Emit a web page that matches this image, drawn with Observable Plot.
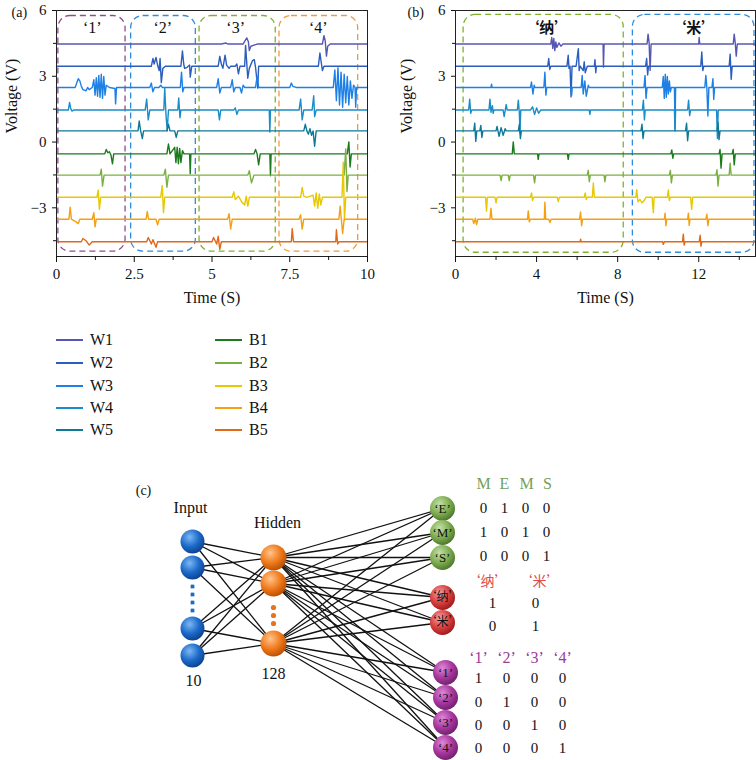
<!DOCTYPE html>
<html><head><meta charset="utf-8">
<script src="https://cdn.jsdelivr.net/npm/d3@7"></script>
<script src="https://cdn.jsdelivr.net/npm/@observablehq/plot@0.6"></script>
<style>
body{margin:0;background:#fff;width:756px;height:760px;overflow:hidden;font-family:"Liberation Serif",serif;}
#top{display:flex;height:310px;}
#legend{position:relative;height:150px;}
#c{height:300px;}
.li{position:absolute;display:flex;align-items:center;height:20px;font-size:16px;color:#111;}
.li span.sw{display:inline-block;width:27px;height:2px;margin-right:7px;}
</style></head><body>
<div id="top"><div id="pa"></div><div id="pb"></div></div>
<div id="legend"></div>
<div id="c"></div>
<script>
// ---------- series ----------
const names = ["W1","W2","W3","W4","W5","B1","B2","B3","B4","B5"];
const baselines = [4.47,3.46,2.49,1.46,0.51,-0.54,-1.51,-2.52,-3.52,-4.55];
const colors = ["#5757B2","#2B5DBE","#1C80E6","#1A8CC8","#0F7896","#1B7A1E","#7AB042","#E8C800","#F5A010","#E06818"];

// panel (a): [time, offset from baseline]
const traceA = {
 W1:[[0,0],[5.3,0],[5.45,0.05],[5.5,0],[6.0,0],[6.05,0.12],[6.12,0.28],[6.17,0.1],[6.2,-0.3],[6.25,-0.1],[6.35,-0.05],[6.45,0],[8.55,0],[8.6,0.38],[8.64,0.15],[8.68,-0.55],[8.72,-0.1],[8.8,0],[10,0]],
 W2:[[0,0],[3.05,0],[3.1,0.35],[3.14,0.1],[3.2,0.4],[3.25,0.05],[3.3,-0.2],[3.33,0.35],[3.37,-0.75],[3.42,-0.1],[3.5,0],[4.0,0],[4.05,0.7],[4.09,0.1],[4.12,-0.1],[4.2,-0.05],[4.28,0.05],[4.3,-0.5],[4.35,0],[5.2,0],[5.25,0.45],[5.3,0.1],[5.35,-0.1],[5.42,0.5],[5.47,0.05],[5.55,-0.1],[5.6,0],[5.75,0],[5.8,0.1],[5.85,-0.35],[5.9,0],[6.05,0],[6.08,0.95],[6.12,0.1],[6.15,-0.55],[6.2,-0.1],[6.3,0.25],[6.36,0.3],[6.4,-0.05],[6.47,-1.0],[6.5,0],[8.42,0],[8.47,0.6],[8.52,0.1],[8.55,-0.2],[8.6,0],[10,0]],
 W3:[[0,0],[0.6,0],[0.65,0.2],[0.7,0.4],[0.75,0.3],[0.8,0.05],[0.85,-0.1],[0.95,-0.15],[1.0,0],[1.05,-0.1],[1.15,0],[1.2,0.35],[1.24,-0.35],[1.28,0.45],[1.32,-0.4],[1.36,0.55],[1.4,-0.45],[1.44,0.6],[1.48,-0.5],[1.52,0.5],[1.56,-0.35],[1.6,0.1],[1.7,0],[1.88,-0.05],[1.9,-0.75],[1.93,0],[3.0,0],[3.05,0.2],[3.1,-0.2],[3.15,0],[3.3,0],[3.35,0.1],[3.4,0],[3.98,0],[4.02,0.7],[4.06,-0.2],[4.1,0],[5.15,0],[5.2,0.4],[5.25,-0.25],[5.3,0],[5.6,0],[5.65,0.35],[5.7,-0.2],[5.75,0],[5.9,0],[5.95,-0.25],[6.0,0.1],[6.05,0],[6.4,0],[6.45,0.5],[6.5,0],[7.5,0],[7.55,0.2],[7.6,0.05],[7.7,0],[8.9,0],[8.95,0.8],[9.0,-0.6],[9.05,0.9],[9.1,-0.8],[9.15,0.7],[9.2,-0.9],[9.25,0.6],[9.3,-0.7],[9.35,0.5],[9.4,-0.8],[9.45,0.3],[9.5,-0.5],[9.55,0.1],[9.6,0],[9.62,-0.9],[9.65,0],[10,0]],
 W4:[[0,0],[0.38,0],[0.42,0.35],[0.46,0.05],[0.5,-0.05],[0.55,0],[2.85,0],[2.9,0.5],[2.95,-0.45],[3.0,0],[3.45,0],[3.48,1.0],[3.52,-0.2],[3.56,-0.95],[3.6,0],[3.9,0],[3.93,0.55],[3.97,-0.35],[4.0,0],[5.2,0],[5.24,-0.45],[5.28,0],[5.7,0],[5.75,0.1],[5.8,-0.2],[5.85,0],[6.84,0],[6.86,-1.0],[6.88,0],[7.8,0],[7.85,0.5],[7.9,-0.45],[7.95,0],[8.22,0],[8.27,0.65],[8.3,-0.3],[8.35,0],[10,0]],
 W5:[[0,0],[2.62,0],[2.66,0.45],[2.7,0.05],[2.76,-0.35],[2.8,0],[3.55,0],[3.6,0.3],[3.65,0],[3.8,0],[3.85,-0.3],[3.9,0],[7.95,0],[8.0,0.3],[8.05,0],[8.1,-0.15],[8.15,0.1],[8.2,-0.2],[8.25,0],[8.3,-0.7],[8.35,0],[10,0]],
 B1:[[0,0],[1.55,0],[1.6,0.2],[1.65,0.05],[1.7,0.1],[1.75,-0.05],[1.8,-0.45],[1.84,0],[3.55,0],[3.6,0.45],[3.65,0],[3.8,0.3],[3.84,-0.4],[3.88,0.3],[3.92,-0.45],[3.96,0.25],[4.0,-0.4],[4.05,0.15],[4.1,0],[4.28,0],[4.3,-0.9],[4.32,0],[6.35,0],[6.4,0.2],[6.45,0],[6.5,-0.5],[6.55,0],[6.86,0],[6.88,-1.0],[6.9,0],[9.35,0],[9.4,0.55],[9.44,-0.6],[9.48,0],[10,0]],
 B2:[[0,0],[1.4,0],[1.44,0.27],[1.48,-0.5],[1.53,0],[3.45,0],[3.5,0.27],[3.55,-0.55],[3.6,0],[6.15,0],[6.2,0.2],[6.27,-0.35],[6.35,0],[9.25,0],[9.3,1.2],[9.34,-0.75],[9.38,0],[10,0]],
 B3:[[0,0],[1.3,0],[1.34,0.33],[1.38,-0.55],[1.42,0],[3.35,0],[3.4,0.53],[3.44,-0.7],[3.48,0],[5.65,0],[5.7,0.25],[5.75,-0.1],[5.85,0.05],[5.95,-0.2],[6.05,-0.35],[6.1,0.05],[6.15,-0.4],[6.2,0],[7.85,0],[7.9,0.45],[7.95,0.05],[8.05,0],[8.25,0.1],[8.3,-0.4],[8.35,0.2],[8.4,-0.5],[8.45,0.15],[8.5,-0.35],[8.55,0],[9.18,0],[9.22,1.6],[9.26,-1.05],[9.3,0],[10,0]],
 B4:[[0,0],[0.4,0],[0.44,0.55],[0.48,0],[0.6,-0.1],[0.7,-0.2],[0.75,0],[1.15,0],[1.2,0.3],[1.24,-0.35],[1.28,0],[2.88,0],[2.92,0.35],[2.96,0],[3.2,0],[3.25,-0.25],[3.3,0],[5.5,0],[5.55,0.25],[5.6,-0.45],[5.65,0],[7.8,0],[7.85,0.2],[7.9,-0.45],[7.95,0],[9.08,0],[9.12,0.6],[9.2,-0.65],[9.25,0],[10,0]],
 B5:[[0,0],[0.8,0],[0.85,0.15],[0.95,0.05],[1.05,-0.15],[1.15,0],[2.9,0],[2.95,0.2],[3.05,-0.1],[3.1,0.1],[3.2,-0.25],[3.25,0],[5.0,0],[5.05,0.2],[5.15,-0.1],[5.2,0.25],[5.25,-0.35],[5.3,0],[7.55,0],[7.58,0.6],[7.62,0],[8.98,0],[9.0,0.55],[9.04,-0.1],[9.08,0],[10,0]]
};
// panel (b)
const traceB = {
 W1:[[0,0],[4.7,0],[4.75,0.3],[4.8,-0.2],[4.85,0.25],[4.9,-0.3],[4.95,0.1],[5.0,-0.15],[5.1,0.05],[5.2,-0.1],[5.3,0],[7.28,0],[7.3,-1.05],[7.33,0],[9.45,0],[9.5,0.45],[9.55,0.1],[9.6,-1.2],[9.65,0],[12.0,0],[12.02,0.3],[12.05,0],[13.7,0],[13.75,0.45],[13.8,0.05],[13.85,-0.55],[13.9,0],[14.8,0]],
 W2:[[0,0],[4.55,0],[4.6,0.35],[4.65,-0.15],[4.7,0],[5.5,0],[5.56,0.5],[5.6,-0.1],[5.65,0],[5.7,-1.4],[5.75,0],[5.95,0],[6.06,0.8],[6.1,-0.2],[6.15,0],[6.3,-0.2],[6.35,0.2],[6.4,-0.3],[6.5,0],[6.85,0],[6.88,0.3],[6.92,-0.3],[6.95,0],[9.38,0],[9.43,0.35],[9.48,-0.4],[9.52,0],[12.1,0],[12.15,0.65],[12.2,-0.2],[12.25,0],[13.5,0],[13.55,0.55],[13.6,-0.6],[13.65,0],[14.8,0]],
 W3:[[0,0],[1.75,0],[1.78,0.15],[1.8,0],[3.7,0],[3.75,0.25],[3.82,-0.3],[3.88,0.1],[3.92,0],[4.36,0],[4.41,0.7],[4.46,-0.35],[4.5,0],[5.7,0],[5.73,-0.35],[5.76,0],[6.2,0],[6.25,0.55],[6.3,-0.3],[6.38,0.3],[6.45,-0.4],[6.55,0.1],[6.6,0],[9.3,0],[9.35,0.55],[9.4,-0.5],[9.45,0],[10.2,0],[10.25,0.5],[10.3,-0.5],[10.35,0.6],[10.4,-0.45],[10.45,0.5],[10.5,-0.3],[10.55,0.3],[10.6,-0.2],[10.65,0],[10.8,0],[10.83,-1.9],[10.86,0],[12.3,0],[12.35,0.55],[12.4,0],[12.45,-1.3],[12.5,0],[12.65,0],[12.7,0.4],[12.74,-0.55],[12.78,0],[14.8,0]],
 W4:[[0,0],[0.65,0],[0.7,0.5],[0.75,-0.15],[0.8,0],[1.65,0],[1.7,0.5],[1.75,-0.1],[1.82,0.2],[1.86,-0.15],[1.9,0],[2.35,0],[2.4,-0.3],[2.5,0.25],[2.55,0],[3.05,0],[3.1,0.45],[3.15,-0.15],[3.18,-1.05],[3.22,0],[3.7,0],[3.8,0.15],[3.9,-0.2],[4.0,0.1],[4.1,-0.15],[4.2,0],[6.6,0],[6.63,-0.2],[6.66,0],[9.22,0],[9.27,0.45],[9.32,-0.45],[9.36,0],[10.8,0],[10.83,-0.95],[10.86,0],[11.45,0],[11.5,0.45],[11.55,-0.25],[11.6,0],[12.88,0],[12.92,-1.3],[12.96,0],[14.8,0]],
 W5:[[0,0],[0.9,0],[0.95,0.35],[1.0,-0.48],[1.05,0],[1.2,0],[1.25,0.25],[1.3,-0.3],[1.35,0],[2.0,0],[2.05,0.2],[2.15,-0.25],[2.25,0.15],[2.35,-0.2],[2.45,0.1],[2.5,0],[3.1,0],[3.15,0.3],[3.2,-0.35],[3.25,0],[9.15,0],[9.2,0.3],[9.25,-0.35],[9.3,0],[11.35,0],[11.4,0.35],[11.45,-0.45],[11.5,0],[12.9,0],[12.95,0.4],[13.0,-0.4],[13.05,0],[14.8,0]],
 B1:[[0,0],[2.8,0],[2.85,0.55],[2.9,0],[4.05,0],[4.08,-0.25],[4.12,0],[5.52,0],[5.56,-0.25],[5.6,0],[10.62,0],[10.67,0.18],[10.72,-0.2],[10.76,0],[13.0,0],[13.05,0.2],[13.1,-0.65],[13.15,0],[13.65,0],[13.7,0.2],[13.75,-0.5],[13.8,0],[14.8,0]],
 B2:[[0,0],[2.2,0],[2.25,-0.25],[2.3,0],[2.6,0],[2.65,-0.25],[2.7,0],[3.85,0],[3.9,-0.35],[3.95,0],[6.5,0],[6.55,0.22],[6.6,-0.3],[6.65,0],[7.33,0],[7.37,-0.3],[7.42,0],[10.55,0],[10.6,0.22],[10.65,-0.35],[10.7,0],[12.85,0],[12.9,0.25],[12.95,-0.5],[13.0,0],[13.5,0],[13.55,0.55],[13.6,0],[14.8,0]],
 B3:[[0,0],[1.48,0],[1.53,-0.63],[1.57,0],[1.95,0],[2.0,-0.25],[2.05,0],[3.7,0],[3.75,0.2],[3.8,-0.15],[3.85,0],[5.02,0],[5.07,-0.2],[5.12,0],[6.35,0],[6.4,0.2],[6.45,-0.1],[6.5,0],[6.75,0],[6.8,0.65],[6.85,0],[8.9,0],[8.94,0.35],[9.0,-0.2],[9.1,-0.1],[9.2,-0.25],[9.3,-0.15],[9.4,0],[9.7,0],[9.76,-0.7],[9.8,0],[10.45,0],[10.5,0.33],[10.55,-0.15],[10.6,0],[11.6,0],[11.65,-0.55],[11.7,0],[14.8,0]],
 B4:[[0,0],[0.85,0],[0.9,-0.2],[0.98,0.05],[1.04,-0.25],[1.1,0],[1.7,0],[1.75,0.5],[1.8,0],[3.55,0],[3.59,0.38],[3.64,-0.12],[3.7,0],[4.38,0],[4.41,0.78],[4.45,0],[4.6,0],[4.66,-0.15],[4.72,0],[6.12,0],[6.17,0.33],[6.22,-0.3],[6.27,0],[10.3,0],[10.34,0.28],[10.38,-0.3],[10.42,0],[11.45,0],[11.49,0.28],[11.53,-0.28],[11.57,0],[12.35,0],[12.4,0.23],[12.45,-0.3],[12.5,0],[14.8,0]],
 B5:[[0,0],[6.15,0],[6.17,0.12],[6.2,0],[10.22,0],[10.25,-0.12],[10.3,0],[11.2,0],[11.24,0.35],[11.28,-0.15],[11.32,0],[12.02,0],[12.07,0.3],[12.11,-0.2],[12.15,0],[14.8,0]]
};

// dashed gesture windows: [label, t start, t end, v bottom, v top, colour]
const boxesA = [["‘1’",0.06,2.22,-5.0,5.75,"#8E4A92"],["‘2’",2.4,4.48,-5.0,5.75,"#2E8CE0"],["‘3’",4.6,7.05,-5.0,5.75,"#80B030"],["‘4’",7.17,9.7,-5.0,5.75,"#F09A40"]];
const boxLabelA = [1.15,3.42,5.76,8.42];
const boxesB = [["‘纳’",0.4,8.3,-5.05,5.8,"#80B030"],["‘米’",8.75,14.75,-5.05,5.8,"#2E8CE0"]];
const boxLabelB = [4.5,11.75];
const ticksYMajor = [-3,0,3,6], ticksYMinor = [-4.5,-1.5,1.5,4.5];
const ticksXA = [0,2.5,5,7.5,10], ticksXAminor = [1.25,3.75,6.25,8.75];
const ticksXB = [0,4,8,12], ticksXBminor = [2,6,10,14];

function rowsOf(tr){
  return names.flatMap((n,i)=>tr[n].map(([t,dv])=>({name:n,t,v:baselines[i]+dv})));
}
const numFmt = d => String(d).replace("-","\u2212");

function panel({tr, xDomain, xMaj, xMin, boxes, boxX, mL, mR, tag, ylabDx, tagDx, cjk}){
  const boxRows = boxes.map((b,i)=>({label:b[0],x1:b[1],x2:b[2],y1:b[3],y2:b[4],c:b[5],lx:boxX[i],ly:5.2}));
  return Plot.plot({
    width:378, height:310, marginLeft:mL, marginRight:mR, marginTop:10, marginBottom:54,
    style:{fontFamily:"'Liberation Serif',serif", fontSize:"14px", background:"white", color:"#111", overflow:"visible"},
    x:{domain:xDomain, axis:null},
    y:{domain:[-5.22,6], axis:null},
    color:{domain:names, range:colors},
    marks:[
      Plot.rect(boxRows,{x1:"x1",x2:"x2",y1:"y1",y2:"y2",fill:"none",stroke:d=>d.c,strokeWidth:1.3,strokeDasharray:"6,4",rx:12}),
      Plot.line(rowsOf(tr),{x:"t",y:"v",z:"name",stroke:"name",strokeWidth:1.4}),
      Plot.text(boxRows,{x:"lx",y:"ly",text:"label",fontSize:cjk?15:16,fontWeight:cjk?"bold":"normal",fontFamily:cjk?"'Noto Sans CJK SC',sans-serif":"'Liberation Serif',serif",fill:"#111"}),
      Plot.frame({stroke:"#222",strokeWidth:1}),
      Plot.axisY({ticks:ticksYMajor,tickSize:4,tickPadding:6,fontSize:15,label:null,tickFormat:numFmt}),
      Plot.axisY({ticks:ticksYMinor,tickSize:3,text:null,label:null}),
      Plot.axisX({ticks:xMaj,tickSize:6,tickPadding:6,fontSize:15,label:null,tickFormat:numFmt}),
      Plot.axisX({ticks:xMin,tickSize:4,text:null,label:null}),
      Plot.text(["Voltage (V)"],{frameAnchor:"left",dx:ylabDx,rotate:-90,fontSize:16}),
      Plot.text(["Time (S)"],{frameAnchor:"bottom",dy:46,fontSize:16}),
      Plot.text([tag],{frameAnchor:"top-left",dx:tagDx,dy:-3,fontSize:14})
    ]
  });
}

document.getElementById("pa").append(panel({tr:traceA,xDomain:[0,10],xMaj:ticksXA,xMin:ticksXAminor,boxes:boxesA,boxX:boxLabelA,mL:56,mR:11,tag:"(a)",ylabDx:-45,tagDx:-45,cjk:false}));
document.getElementById("pb").append(panel({tr:traceB,xDomain:[0,14.8],xMaj:ticksXB,xMin:ticksXBminor,boxes:boxesB,boxX:boxLabelB,mL:77,mR:1,tag:"(b)",ylabDx:-49,tagDx:-48,cjk:true}));

// ---------- legend ----------
const leg = document.getElementById("legend");
const legRowTop = [30,53,76,98,120];
names.forEach((n,i)=>{
  const col = i<5?0:1, r = i%5;
  const d = document.createElement("div");
  d.className="li";
  d.style.left = (col?215:56)+"px";
  d.style.top = (legRowTop[r]-10)+"px";
  d.innerHTML = `<span class="sw" style="background:${colors[i]}"></span><span>${n}</span>`;
  leg.append(d);
});

// ---------- (c) network diagram ----------
const inputNodes = [541,567,628,655];
const inputGap = [586,594,602,610];
const hiddenNodes = [557,583,643];
const hiddenGap = [607,615,623];
const outputNodes = [
 {label:"‘E’",y:508,g:"green",x:442},{label:"‘M’",y:532,g:"green",x:442},{label:"‘S’",y:557,g:"green",x:442},
 {label:"‘纳’",y:597,g:"red",x:442},{label:"‘米’",y:622,g:"red",x:442},
 {label:"‘1’",y:672,g:"purple",x:445},{label:"‘2’",y:697,g:"purple",x:445},{label:"‘3’",y:722,g:"purple",x:445},{label:"‘4’",y:747,g:"purple",x:445}
];
const layerX = {input:192, hidden:273};
const emsHead = ["M","E","M","S"], emsX=[483,504,526,547];
const emsVals = [[0,1,0,0],[1,0,1,0],[0,0,0,1]], emsRowY=[508,532,556], emsValX=[483,504,525,546];
const cnHead = ["‘纳’","‘米’"], cnX=[487,539];
const cnVals = [[1,0],[0,1]], cnRowY=[603,626], cnValX=[492,535];
const numHead = ["‘1’","‘2’","‘3’","‘4’"], numX=[478,506,534,562];
const numVals = [[1,0,0,0],[0,1,0,0],[0,0,1,0],[0,0,0,1]], numRowY=[678,702,725,748];

const links = [];
inputNodes.forEach(a=>hiddenNodes.forEach(b=>links.push({x1:layerX.input,y1:a,x2:layerX.hidden,y2:b})));
hiddenNodes.forEach(a=>outputNodes.forEach(o=>links.push({x1:layerX.hidden,y1:a,x2:o.x,y2:o.y})));

function cells(vals,rowY,colX){return vals.flatMap((r,i)=>r.map((v,j)=>({x:colX[j],y:rowY[i],t:String(v)})));}
const cjk = "'Noto Sans CJK SC',sans-serif";
const serif = "'Liberation Serif',serif";
const byGroup = g=>outputNodes.filter(o=>o.g===g);

const pc = Plot.plot({
  width:756, height:300, margin:0,
  style:{fontFamily:serif, fontSize:"15px", background:"white", color:"#111", overflow:"visible"},
  x:{domain:[0,756], axis:null},
  y:{domain:[460,760], reverse:true, axis:null},
  marks:[
    Plot.link(links,{x1:"x1",y1:"y1",x2:"x2",y2:"y2",stroke:"#111",strokeWidth:1.3}),
    Plot.dot(inputNodes,{x:()=>layerX.input,y:d=>d,r:12,fill:"url(#g-blue)"}),
    Plot.dot(inputGap,{x:()=>layerX.input,y:d=>d,symbol:"square",r:2.1,fill:"#1A6CC8"}),
    Plot.dot(hiddenNodes,{x:()=>layerX.hidden,y:d=>d,r:13,fill:"url(#g-orange)"}),
    Plot.dot(hiddenGap,{x:()=>layerX.hidden,y:d=>d,r:2.6,fill:"#E8731A"}),
    Plot.dot(byGroup("green"),{x:"x",y:"y",r:12.5,fill:"url(#g-green)"}),
    Plot.dot(byGroup("red"),{x:"x",y:"y",r:12.5,fill:"url(#g-red)"}),
    Plot.dot(byGroup("purple"),{x:"x",y:"y",r:12.5,fill:"url(#g-purple)"}),
    Plot.text(outputNodes.filter(o=>o.g!=="red"),{x:"x",y:"y",text:"label",fontSize:13,fill:"#111"}),
    Plot.text(byGroup("red"),{x:"x",y:"y",text:"label",fontSize:12,fontFamily:cjk,fill:"#111"}),
    Plot.text(["(c)"],{x:()=>143,y:()=>490,fontSize:14}),
    Plot.text(["Input"],{x:()=>190,y:()=>507,fontSize:16}),
    Plot.text(["Hidden"],{x:()=>277,y:()=>522,fontSize:16}),
    Plot.text(["10"],{x:()=>193,y:()=>680,fontSize:16}),
    Plot.text(["128"],{x:()=>273,y:()=>673,fontSize:16}),
    Plot.text(emsHead,{x:(d,i)=>emsX[i],y:()=>483,fontSize:16,fill:"#74A05A"}),
    Plot.text(cells(emsVals,emsRowY,emsValX),{x:"x",y:"y",text:"t",fontSize:15}),
    Plot.text(cnHead,{x:(d,i)=>cnX[i],y:()=>581,fontSize:14,fontFamily:cjk,fill:"#E5484A"}),
    Plot.text(cells(cnVals,cnRowY,cnValX),{x:"x",y:"y",text:"t",fontSize:15}),
    Plot.text(numHead,{x:(d,i)=>numX[i],y:()=>657,fontSize:16,fill:"#9A3A9A"}),
    Plot.text(cells(numVals,numRowY,numX),{x:"x",y:"y",text:"t",fontSize:15})
  ]
});
const grads = {blue:["#7DB8F2","#1C6ACB","#0C3F8C"],orange:["#FFC48A","#F07A1C","#B84C00"],green:["#C4E0A8","#7FAE52","#4A7428"],red:["#F4A0A0","#D9403E","#9A1818"],purple:["#DE8AD8","#A8389E","#6E1E6A"]};
const defs = d3.select(pc).insert("defs",":first-child");
for (const [k,c] of Object.entries(grads)){
  const g = defs.append("radialGradient").attr("id","g-"+k).attr("cx","38%").attr("cy","32%").attr("r","72%");
  g.append("stop").attr("offset","0%").attr("stop-color",c[0]);
  g.append("stop").attr("offset","55%").attr("stop-color",c[1]);
  g.append("stop").attr("offset","100%").attr("stop-color",c[2]);
}
document.getElementById("c").append(pc);
</script>
</body></html>
